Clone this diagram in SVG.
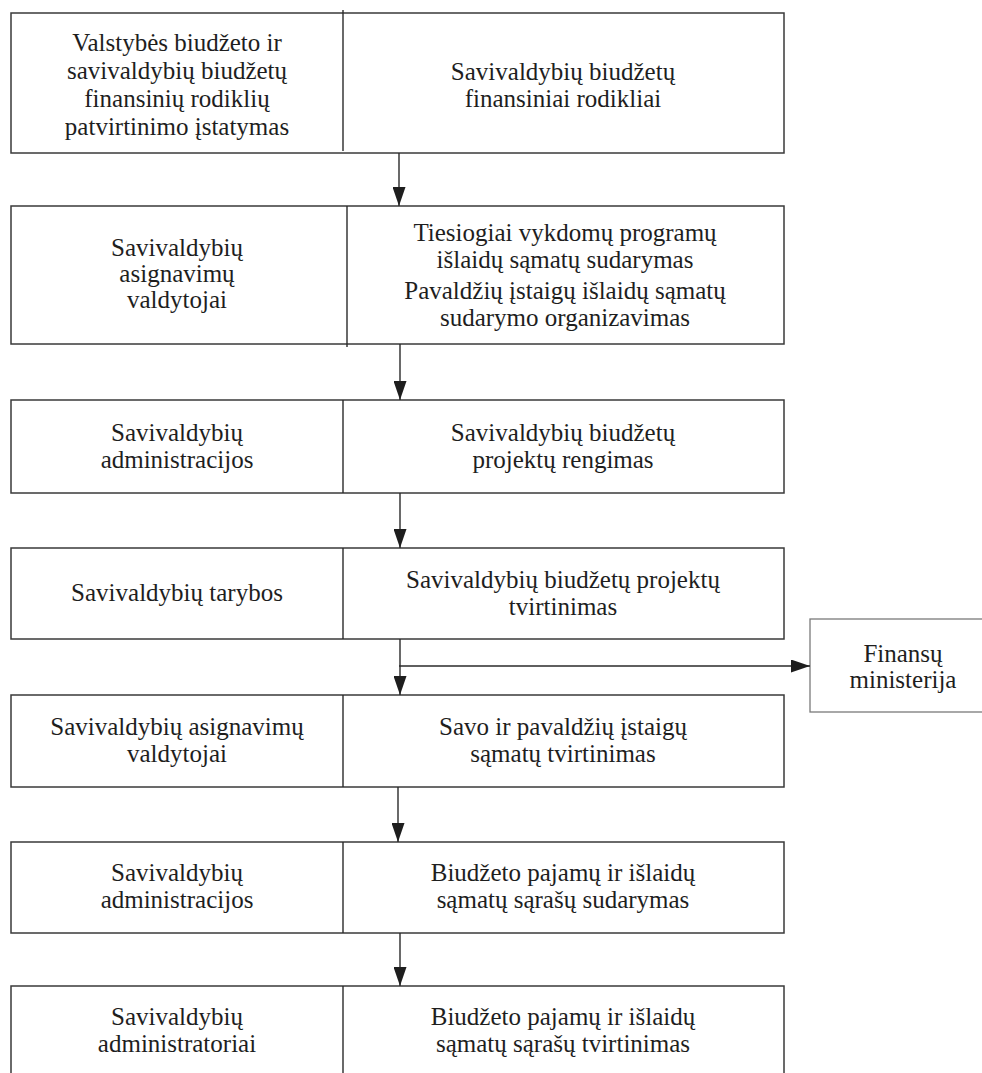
<svg xmlns="http://www.w3.org/2000/svg" width="982" height="1073" viewBox="0 0 982 1073">
  <defs>
    <style>
      .box { fill: #ffffff; stroke: #3a3a3a; stroke-width: 1.5; }
      .side { fill: #ffffff; stroke: #7a7a7a; stroke-width: 1.3; }
      .div { stroke: #2a2a2a; stroke-width: 1.4; }
      .edge { stroke: #2a2a2a; stroke-width: 1.4; fill: none; }
      text { font-family: "Liberation Serif", "Times New Roman", serif; font-size: 25px; fill: #1e1e1e; text-anchor: middle; }
    </style>
    <marker id="arrow" markerWidth="19" markerHeight="13" refX="19" refY="6.5" orient="auto" markerUnits="userSpaceOnUse">
      <path d="M0,0 L19,6.5 L0,13 Z" fill="#1e1e1e"/>
    </marker>
  </defs>
  <rect width="982" height="1073" fill="#ffffff"/>

  <!-- Step 1 -->
  <g id="n1">
    <rect class="box" x="11" y="13" width="773" height="140"/>
    <line class="div" x1="343" y1="10" x2="343" y2="151"/>
    <text x="177" y="51">Valstybės biudžeto ir</text>
    <text x="177" y="79">savivaldybių biudžetų</text>
    <text x="177" y="107">finansinių rodiklių</text>
    <text x="177" y="135">patvirtinimo įstatymas</text>
    <text x="563" y="80">Savivaldybių biudžetų</text>
    <text x="563" y="107">finansiniai rodikliai</text>
  </g>

  <!-- Step 2 -->
  <g id="n2">
    <rect class="box" x="11" y="206" width="773" height="138"/>
    <line class="div" x1="347" y1="206" x2="347" y2="347"/>
    <text x="177" y="256">Savivaldybių</text>
    <text x="177" y="282">asignavimų</text>
    <text x="177" y="308">valdytojai</text>
    <text x="565" y="241">Tiesiogiai vykdomų programų</text>
    <text x="565" y="268">išlaidų sąmatų sudarymas</text>
    <text x="565" y="299">Pavaldžių įstaigų išlaidų sąmatų</text>
    <text x="565" y="326">sudarymo organizavimas</text>
  </g>

  <!-- Step 3 -->
  <g id="n3">
    <rect class="box" x="11" y="400" width="773" height="93"/>
    <line class="div" x1="343" y1="400" x2="343" y2="493"/>
    <text x="177" y="441">Savivaldybių</text>
    <text x="177" y="468">administracijos</text>
    <text x="563" y="441">Savivaldybių biudžetų</text>
    <text x="563" y="468">projektų rengimas</text>
  </g>

  <!-- Step 4 -->
  <g id="n4">
    <rect class="box" x="11" y="548" width="773" height="91"/>
    <line class="div" x1="343" y1="548" x2="343" y2="639"/>
    <text x="177" y="601">Savivaldybių tarybos</text>
    <text x="563" y="588">Savivaldybių biudžetų projektų</text>
    <text x="563" y="615">tvirtinimas</text>
  </g>

  <!-- Side branch -->
  <g id="n-fin">
    <rect class="side" x="810" y="619" width="190" height="93"/>
    <text x="903" y="662">Finansų</text>
    <text x="903" y="688">ministerija</text>
  </g>

  <!-- Step 5 -->
  <g id="n5">
    <rect class="box" x="11" y="695" width="773" height="92"/>
    <line class="div" x1="343" y1="695" x2="343" y2="787"/>
    <text x="177" y="735">Savivaldybių asignavimų</text>
    <text x="177" y="762">valdytojai</text>
    <text x="563" y="735">Savo ir pavaldžių įstaigų</text>
    <text x="563" y="762">sąmatų tvirtinimas</text>
  </g>

  <!-- Step 6 -->
  <g id="n6">
    <rect class="box" x="11" y="842" width="773" height="91"/>
    <line class="div" x1="343" y1="842" x2="343" y2="933"/>
    <text x="177" y="881">Savivaldybių</text>
    <text x="177" y="908">administracijos</text>
    <text x="563" y="881">Biudžeto pajamų ir išlaidų</text>
    <text x="563" y="908">sąmatų sąrašų sudarymas</text>
  </g>

  <!-- Step 7 -->
  <g id="n7">
    <rect class="box" x="11" y="986" width="773" height="95"/>
    <line class="div" x1="343" y1="986" x2="343" y2="1081"/>
    <text x="177" y="1025">Savivaldybių</text>
    <text x="177" y="1052">administratoriai</text>
    <text x="563" y="1025">Biudžeto pajamų ir išlaidų</text>
    <text x="563" y="1052">sąmatų sąrašų tvirtinimas</text>
  </g>

  <!-- Connectors -->
  <g id="connectors">
    <line class="edge" x1="399" y1="153" x2="399" y2="206" marker-end="url(#arrow)"/>
    <line class="edge" x1="400" y1="344" x2="400" y2="400" marker-end="url(#arrow)"/>
    <line class="edge" x1="400" y1="493" x2="400" y2="548" marker-end="url(#arrow)"/>
    <line class="edge" x1="400" y1="639" x2="400" y2="695" marker-end="url(#arrow)"/>
    <line class="edge" x1="399" y1="666" x2="810" y2="666" marker-end="url(#arrow)"/>
    <line class="edge" x1="398" y1="787" x2="398" y2="842" marker-end="url(#arrow)"/>
    <line class="edge" x1="400" y1="933" x2="400" y2="986" marker-end="url(#arrow)"/>
  </g>
</svg>
